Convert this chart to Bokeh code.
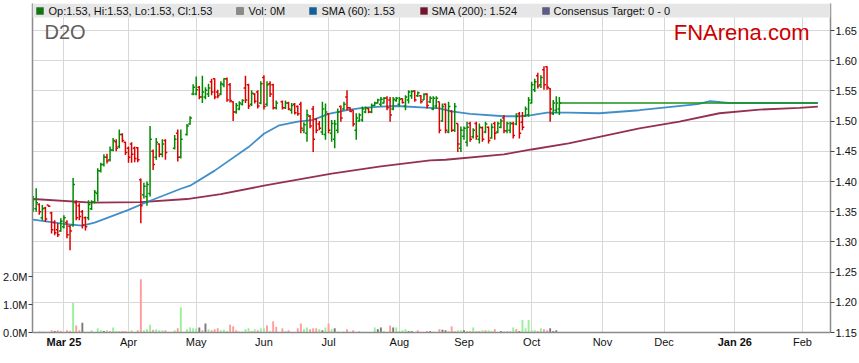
import numpy as np
import pandas as pd
from bokeh.plotting import figure
from bokeh.models import (ColumnDataSource, Range1d, LinearAxis, FixedTicker, PrintfTickFormatter,
                          BoxAnnotation, Label, Span, Grid)
from bokeh.embed import file_html
from bokeh.resources import INLINE

# ---------------- data ----------------
holidays = ["2025-04-18", "2025-04-21", "2025-04-25", "2025-06-09"]
first_day = "2025-02-17"
last_day = "2025-10-14"

opens = [
    1.360,1.355,1.362,1.340,1.356,1.361,1.348,1.332,1.320,1.318,
    1.325,1.332,1.326,1.328,1.365,1.360,1.350,1.340,1.340,1.355,1.366,1.380,1.418,1.428,1.440,1.436,1.452,1.466,1.458,1.478,1.465,
    1.455,1.462,1.455,1.456,1.403,1.378,1.375,1.380,1.450,1.440,1.462,1.445,1.468,1.455,1.480,1.440,1.478,1.495,1.545,
    1.545,1.556,1.540,1.540,1.545,1.565,1.570,1.548,1.545,1.560,1.570,1.560,1.532,1.515,1.520,1.528,1.555,1.560,1.528,1.545,1.548,1.530,
    1.572,1.528,1.562,1.560,1.522,1.532,1.522,1.530,1.518,1.528,1.524,1.528,1.485,1.480,1.508,1.520,1.503,1.495,1.482,1.478,
    1.512,1.480,1.470,1.485,1.524,1.520,1.540,1.522,1.518,1.485,1.500,1.502,1.515,1.521,1.515,1.526,1.530,1.528,1.530,1.538,1.535,1.520,1.534,
    1.528,1.537,1.525,1.535,1.542,1.550,1.542,1.542,1.535,1.545,1.532,1.520,1.525,1.532,1.500,1.528,1.482,1.516,1.485,1.496,1.455,
    1.475,1.465,1.496,1.474,1.496,1.470,1.489,1.482,1.490,1.472,1.496,1.482,1.490,1.505,1.484,1.485,1.496,1.495,1.512,1.498,1.508,1.510,
    1.530,1.552,1.575,1.560,1.585,1.590,1.554,1.512,1.518,1.520,
]
highs = [
    1.376,1.389,1.364,1.361,1.358,1.361,1.350,1.336,1.331,1.339,
    1.344,1.336,1.328,1.406,1.369,1.364,1.353,1.342,1.369,1.369,1.386,1.422,1.431,1.445,1.446,1.458,1.472,1.470,1.486,1.480,1.466,
    1.458,1.465,1.458,1.457,1.405,1.398,1.400,1.492,1.453,1.472,1.463,1.470,1.470,1.477,1.486,1.486,1.495,1.508,1.561,
    1.574,1.558,1.575,1.556,1.562,1.570,1.571,1.552,1.566,1.571,1.572,1.563,1.533,1.530,1.533,1.536,1.575,1.562,1.551,1.546,1.551,1.566,
    1.576,1.566,1.566,1.562,1.534,1.534,1.534,1.532,1.530,1.530,1.526,1.532,1.498,1.519,1.510,1.525,1.505,1.500,1.532,1.529,
    1.513,1.502,1.502,1.521,1.526,1.532,1.551,1.523,1.518,1.513,1.513,1.524,1.524,1.522,1.529,1.532,1.537,1.540,1.540,1.541,1.540,1.540,1.540,
    1.540,1.538,1.543,1.551,1.551,1.551,1.549,1.543,1.546,1.546,1.541,1.541,1.541,1.532,1.529,1.529,1.532,1.518,1.530,1.496,1.491,
    1.491,1.499,1.499,1.488,1.499,1.496,1.491,1.499,1.491,1.496,1.499,1.499,1.504,1.510,1.499,1.499,1.499,1.513,1.515,1.515,1.524,1.540,
    1.565,1.570,1.580,1.576,1.591,1.591,1.555,1.535,1.541,1.540,
]
lows = [
    1.350,1.350,1.345,1.336,1.333,1.358,1.314,1.311,1.308,1.317,
    1.322,1.306,1.286,1.325,1.336,1.336,1.322,1.319,1.336,1.353,1.364,1.367,1.415,1.425,1.430,1.433,1.450,1.450,1.455,1.465,1.444,
    1.431,1.431,1.432,1.432,1.331,1.372,1.360,1.375,1.419,1.436,1.440,1.440,1.436,1.453,1.433,1.438,1.476,1.494,1.543,
    1.543,1.536,1.530,1.536,1.540,1.543,1.536,1.538,1.543,1.556,1.532,1.531,1.500,1.512,1.518,1.526,1.530,1.520,1.525,1.529,1.521,1.528,
    1.519,1.524,1.540,1.519,1.519,1.519,1.520,1.518,1.512,1.511,1.509,1.480,1.480,1.466,1.488,1.449,1.480,1.485,1.477,1.469,
    1.480,1.466,1.455,1.480,1.499,1.518,1.518,1.515,1.491,1.469,1.499,1.499,1.513,1.513,1.513,1.525,1.529,1.524,1.529,1.518,1.499,1.518,1.532,
    1.524,1.529,1.518,1.529,1.537,1.532,1.540,1.529,1.535,1.521,1.530,1.518,1.521,1.480,1.499,1.480,1.480,1.482,1.482,1.449,1.449,
    1.469,1.458,1.466,1.471,1.469,1.463,1.466,1.480,1.463,1.471,1.469,1.480,1.488,1.480,1.480,1.480,1.471,1.493,1.471,1.485,1.507,1.507,
    1.529,1.548,1.554,1.555,1.552,1.552,1.499,1.510,1.513,1.510,
]
closes = [
    1.370,1.365,1.350,1.355,1.338,1.359,1.320,1.315,1.312,1.334,
    1.340,1.312,1.318,1.395,1.340,1.342,1.328,1.325,1.362,1.366,1.382,1.418,1.428,1.440,1.434,1.452,1.468,1.455,1.478,1.468,1.448,
    1.440,1.445,1.438,1.436,1.360,1.392,1.395,1.470,1.428,1.465,1.445,1.462,1.448,1.470,1.440,1.470,1.492,1.505,1.556,
    1.552,1.540,1.548,1.551,1.555,1.548,1.540,1.542,1.562,1.570,1.535,1.534,1.515,1.526,1.530,1.534,1.535,1.525,1.546,1.533,1.525,1.562,
    1.524,1.560,1.545,1.522,1.530,1.522,1.530,1.520,1.526,1.514,1.512,1.488,1.494,1.510,1.492,1.470,1.485,1.488,1.520,1.515,
    1.485,1.496,1.495,1.515,1.505,1.528,1.522,1.516,1.495,1.505,1.510,1.520,1.522,1.515,1.526,1.530,1.535,1.536,1.538,1.522,1.510,1.536,1.538,
    1.536,1.531,1.540,1.548,1.549,1.535,1.547,1.532,1.544,1.526,1.538,1.538,1.538,1.485,1.524,1.485,1.524,1.485,1.524,1.462,1.485,
    1.488,1.490,1.470,1.485,1.475,1.490,1.470,1.495,1.468,1.490,1.480,1.496,1.500,1.484,1.496,1.496,1.476,1.508,1.480,1.490,1.520,1.535,
    1.560,1.565,1.558,1.572,1.560,1.556,1.520,1.530,1.530,1.530,
]
volume_m = [
    .02,.02,.03,.03,.03,.03,.08,.05,.08,.05,
    .02,.08,.05,1.05,.25,.08,.35,.01,.03,.08,.02,.15,.08,.05,.08,.05,.18,.05,.05,.05,.05,
    .02,.08,.02,.08,1.9,.08,.12,.28,.1,.12,.08,.08,.08,.08,.15,.9,.12,.18,.15,
    .15,.18,.08,.32,.12,.08,.12,.15,.08,.1,.05,.28,.22,.08,.03,.03,.12,.15,.05,.12,.08,.15,
    .15,.25,.05,.4,.2,.15,.03,.08,.02,.01,.15,.32,.12,.18,.12,.15,.15,.12,.08,.18,
    .32,.12,.15,.03,.01,.03,.12,.01,.08,.01,.03,.01,.02,.01,.01,.18,.12,.18,.05,.01,.25,.18,.18,
    .05,.08,.12,.05,.05,.01,.08,.01,.01,.05,.05,.03,.01,.12,.1,.08,.05,.22,.05,.08,.08,
    .08,.05,.05,.18,.05,.05,.08,.08,.08,.05,.12,.01,.05,.03,.05,.05,.18,.12,.05,.45,.15,.45,
    .08,.08,.05,.15,.12,.08,.15,.05,.08,0.0,
]
# u = up day, d = down day, f = unchanged
volume_dir = list(
    "fdffdddfdd"
    "uddudd" "ffuuuuufuduuudd"
    "dudddu" "uuduuud" "udu" "uuu"
    "ufdfuddduuudddfuuudud" "u"
    "ududd" "dfdufdduudddufu"
    "dufufudfdf" "ffuffuffuf" "dfu"
    "uuufffdffd" "fufdffuddu" "u"
    "fududdudu" "u" "dfffduudfu" "uu"
    "uududdffff"
)

sma60_dates = ["2025-02-17","2025-03-03","2025-03-11","2025-03-17","2025-04-01","2025-04-09","2025-04-24",
               "2025-04-29","2025-05-09","2025-05-26","2025-06-02","2025-06-09","2025-06-17","2025-06-24",
               "2025-07-01","2025-07-09","2025-07-16","2025-07-24","2025-07-31","2025-08-15","2025-08-20",
               "2025-08-26","2025-09-03","2025-09-18","2025-09-25","2025-10-01","2025-10-08","2025-10-17",
               "2025-10-31","2025-11-19","2025-12-16","2025-12-22","2025-12-30","2026-01-21","2026-02-09"]
sma60 = [1.337,1.330,1.327,1.332,1.353,1.366,1.388,1.393,1.418,1.457,1.479,1.493,1.499,1.502,1.512,
         1.518,1.522,1.524,1.525,1.522,1.521,1.516,1.512,1.508,1.508,1.510,1.514,1.514,1.513,1.518,
         1.528,1.533,1.530,1.530,1.530]
sma200_dates = ["2025-02-17","2025-03-14","2025-04-07","2025-04-28","2025-05-13","2025-06-02","2025-07-02",
                "2025-07-24","2025-08-15","2025-08-22","2025-09-18","2025-10-01","2025-10-17","2025-10-31",
                "2025-11-19","2025-12-08","2025-12-25","2026-01-13","2026-01-30","2026-02-09"]
sma200 = [1.371,1.365,1.366,1.371,1.379,1.393,1.413,1.425,1.435,1.436,1.445,1.453,1.463,1.474,1.488,
          1.499,1.513,1.519,1.522,1.524]
proj_dates = ["2025-10-14", "2026-02-09"]
proj_close = [1.53, 1.53]

tick_dates = ["2025-03-03","2025-04-01","2025-05-01","2025-06-02","2025-07-01","2025-08-01",
              "2025-09-01","2025-10-01","2025-11-03","2025-12-01","2026-01-01","2026-02-02"]
tick_labels = ["Mar 25","Apr","May","Jun","Jul","Aug","Sep","Oct","Nov","Dec","Jan 26","Feb"]
bold_labels = ["Mar 25", "Jan 26"]
price_ticks = [1.15,1.20,1.25,1.30,1.35,1.40,1.45,1.50,1.55,1.60,1.65]
volume_ticks = [0, 1, 2]

legend_labels = ["Op:1.53, Hi:1.53, Lo:1.53, Cl:1.53", "Vol: 0M", "SMA (60): 1.53",
                 "SMA (200): 1.524", "Consensus Target: 0 - 0"]

# ---------------- helpers ----------------
base = np.datetime64(first_day)
def slot(ds):
    return np.busday_count(base, np.array(ds, dtype="datetime64[D]")).astype(float)

trade_dates = [d.strftime("%Y-%m-%d") for d in pd.bdate_range(first_day, last_day)
               if d.strftime("%Y-%m-%d") not in holidays]
assert len(trade_dates) == len(opens) == len(highs) == len(lows) == len(closes) == len(volume_m) == len(volume_dir)

FONT = "Liberation Sans"
UP, DOWN = "#008a00", "#dd0000"
VOLCOL = {"u": "#98f098", "d": "#ff9c9c", "f": "#7a7a7a"}
AXC = "#8a8a8a"
GRIDC = "#d8d8d8"

xs = slot(trade_dates)
half = 0.6
src = ColumnDataSource(dict(
    x=xs, xl=xs - half, xr=xs + half,
    o=opens, h=highs, l=lows, c=closes,
    col=[UP if c >= o else DOWN for o, c in zip(opens, closes)],
    vol=volume_m, vcol=[VOLCOL[d] for d in volume_dir],
))

# layout (pixels): frame from y=3 to y=355, price axis base (1.15) at y=332, 302 px per 0.50
W, H = 859, 355
TOP, LEFT, RIGHT = 3, 31, 27
frame_h = H - TOP
px_per_price = 302 / 0.5
base_y = 332 - TOP
PRICE_LO = 1.15 - (frame_h - base_y) / px_per_price
PRICE_HI = 1.15 + base_y / px_per_price
px_per_m = 28.0
VOL_LO = -(frame_h - base_y) / px_per_m
VOL_HI = base_y / px_per_m

p = figure(width=W, height=H, output_backend="svg", toolbar_location=None, title=None,
           x_range=Range1d(-0.2, 259.1), y_range=Range1d(PRICE_LO, PRICE_HI),
           x_axis_location=None, y_axis_location="right",
           min_border_left=LEFT, min_border_right=RIGHT, min_border_top=TOP, min_border_bottom=0)
p.outline_line_color = None
p.background_fill_color = "white"
p.border_fill_color = "white"
for g in p.xgrid:
    g.visible = False

# volume axis (left)
p.extra_y_ranges = {"vol": Range1d(VOL_LO, VOL_HI)}
vax = LinearAxis(y_range_name="vol", ticker=FixedTicker(ticks=volume_ticks),
                 formatter=PrintfTickFormatter(format="%.1fM"), bounds=(0, VOL_HI))
p.add_layout(vax, "left")

# price axis (right)
yax = p.right[0]
yax.ticker = FixedTicker(ticks=price_ticks)
yax.formatter = PrintfTickFormatter(format="%.2f")
yax.bounds = (1.15, PRICE_HI)

for ax in (yax, vax):
    ax.axis_line_color = AXC
    ax.axis_line_width = 1.5
    ax.major_tick_line_color = "#444444"
    ax.major_tick_out = 4
    ax.major_tick_in = 0
    ax.minor_tick_line_color = None
    ax.major_label_standoff = 1
    ax.major_label_text_font = FONT
    ax.major_label_text_font_size = "11px"
    ax.major_label_text_color = "#111111"

tick_pos = [float(v) for v in slot(tick_dates)]
p.ygrid.grid_line_color = GRIDC
p.add_layout(Grid(dimension=0, ticker=FixedTicker(ticks=tick_pos), grid_line_color=GRIDC))

# white strip below the chart base (hides grid there)
p.add_layout(BoxAnnotation(top=1.15, fill_color="white", fill_alpha=1.0, line_alpha=0, level="underlay"))

# volume bars
p.vbar(x="x", top="vol", width=0.62, fill_color="vcol", line_color=None, y_range_name="vol", source=src)

# SMA lines and projection
p.line(slot(sma200_dates), sma200, line_color="#8a1a3e", line_width=1.8, line_alpha=0.9)
p.line(slot(sma60_dates), sma60, line_color="#2c83c3", line_width=1.8, line_alpha=0.9)
p.line(slot(proj_dates), proj_close, line_color="#1a921a", line_width=1.5)

# OHLC bars
p.segment(x0="x", y0="l", x1="x", y1="h", line_color="col", line_width=1.5, source=src)
p.segment(x0="xl", y0="o", x1="x", y1="o", line_color="col", line_width=1.5, source=src)
p.segment(x0="x", y0="c", x1="xr", y1="c", line_color="col", line_width=1.5, source=src)

# chart base line
p.add_layout(Span(location=1.15, dimension="width", line_color=AXC, line_width=1.5))

# month labels
for t, lab in zip(tick_pos, tick_labels):
    p.add_layout(Label(x=t, y=1.15, y_offset=-9, text=lab, text_font=FONT, text_font_size="11px",
                       text_font_style="bold" if lab in bold_labels else "normal",
                       text_color="#111111", text_align="center", text_baseline="alphabetic"))

# top band with legend
band_bottom = PRICE_HI - 14 / px_per_price
p.add_layout(BoxAnnotation(bottom=band_bottom, fill_color="#e6e6e6", fill_alpha=1.0, line_alpha=0))

sw_colors = ["#0a7a0a", "#8a8a8a", "#0b62a6", "#7d0e2e", "#5c5c8c"]
sw_left = [35, 235, 308, 419, 541]
txt_left = [47, 247, 320, 430, 552]
for lab, colr, sx, tx in zip(legend_labels, sw_colors, sw_left, txt_left):
    p.add_layout(BoxAnnotation(left=sx - LEFT, right=sx - LEFT + 7, top=H - 7, bottom=H - 14,
                               left_units="screen", right_units="screen", top_units="screen",
                               bottom_units="screen", fill_color=colr, fill_alpha=1.0,
                               line_color="#222222", line_width=1))
    p.add_layout(Label(x=tx - LEFT, y=H - 10, x_units="screen", y_units="screen", text=lab,
                       text_font=FONT, text_font_size="11px", text_color="#111111",
                       text_align="left", text_baseline="alphabetic"))

# watermark texts
p.add_layout(Label(x=43 - LEFT, y=H - 31, x_units="screen", y_units="screen", text="D2O",
                   text_font=FONT, text_font_size="20px", text_color="#5e5e5e",
                   text_align="left", text_baseline="alphabetic"))
p.add_layout(Label(x=808 - LEFT, y=H - 32, x_units="screen", y_units="screen", text="FNArena.com",
                   text_font=FONT, text_font_size="22px", text_color="#cc0000",
                   text_align="right", text_baseline="alphabetic"))

open("out.html", "w").write(file_html(p, INLINE))
